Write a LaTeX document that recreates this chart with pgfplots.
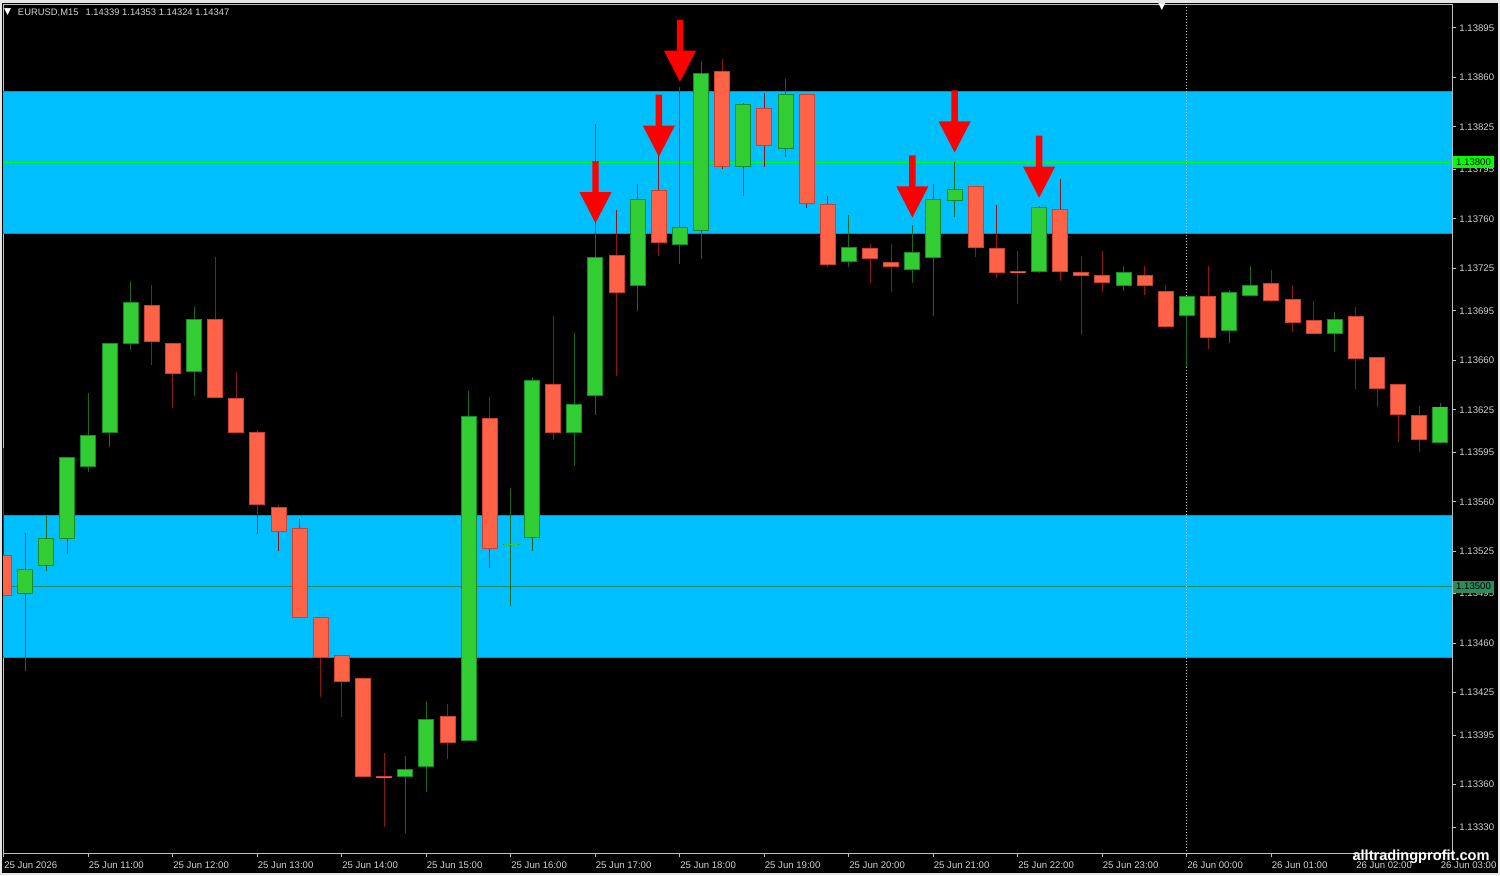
\documentclass[border=0pt]{standalone}
\usepackage{pgfplots}
\usepackage{pgfplotstable}
\pgfplotsset{compat=1.18}
\usepackage{fontspec}
\setmainfont{Liberation Sans}
\newfontfamily\symfont{DejaVu Sans}

\definecolor{zone}{RGB}{0,191,255}
\definecolor{zoneedge}{RGB}{20,140,200}
\definecolor{bullfill}{RGB}{50,205,50}
\definecolor{bulledge}{RGB}{20,140,40}
\definecolor{bullwick}{RGB}{20,105,30}
\definecolor{bearfill}{RGB}{255,99,71}
\definecolor{bearedge}{RGB}{205,65,50}
\definecolor{bearwick}{RGB}{140,25,25}
\definecolor{axisgray}{RGB}{192,192,192}
\definecolor{labelgray}{RGB}{210,210,210}
\definecolor{hlhigh}{RGB}{0,255,0}
\definecolor{hllow}{RGB}{46,139,87}
\definecolor{lowline}{RGB}{30,140,100}

% down arrow, tip at the data point (1px of the reference = 0.5pt)
\pgfdeclareplotmark{sigarrow}{%
  \pgfpathmoveto{\pgfpoint{0pt}{0pt}}%
  \pgfpathlineto{\pgfpoint{-8pt}{15.5pt}}%
  \pgfpathlineto{\pgfpoint{-1.6pt}{15.5pt}}%
  \pgfpathlineto{\pgfpoint{-1.6pt}{31pt}}%
  \pgfpathlineto{\pgfpoint{1.6pt}{31pt}}%
  \pgfpathlineto{\pgfpoint{1.6pt}{15.5pt}}%
  \pgfpathlineto{\pgfpoint{8pt}{15.5pt}}%
  \pgfpathclose
  \pgfusepathqfill}

% prices in points above 1.13000 (895 = 1.13895); n = bar number, 0 = 25 Jun 10:00, M15
\pgfplotstableread{
n o h l c
1 495 538 440 512
2 515 550 511 534
3 534 591 523 591
4 585 637 581 607
5 609 672 599 672
6 672 716 667 701
9 652 698 635 689
19 366 380 326 371
20 373 419 355 406
22 391 638 391 620
24 530 570 486 530
25 535 648 525 646
27 609 679 585 629
28 635 827 621 733
30 713 785 695 774
32 742 853 728 754
33 752 872 732 863
35 797 842 776 841
37 810 859 804 848
40 730 763 726 740
43 724 756 715 736
44 733 785 691 774
45 773 800 761 781
49 723 769 722 768
53 713 727 709 722
56 692 705 655 705
58 681 710 672 708
59 706 727 706 713
63 679 694 666 689
68 602 630 602 627
}\bull

\pgfplotstableread{
n o h l c
0 522 598 494 494
7 699 713 657 673
8 672 672 626 651
10 689 733 634 634
11 633 652 609 609
12 609 611 537 558
13 556 558 525 539
14 541 548 478 478
15 478 478 422 450
16 451 451 408 433
17 435 436 366 366
18 366 382 330 365
21 408 417 378 390
23 619 634 513 527
26 643 691 604 609
29 734 766 649 708
31 780 805 734 743
34 864 873 795 797
36 838 849 797 812
38 848 848 768 771
39 770 776 726 728
41 739 742 715 732
42 729 742 708 726
46 783 783 733 740
47 739 770 718 722
48 723 737 700 722
50 767 788 716 723
51 722 734 678 720
52 720 737 708 715
54 720 727 706 713
55 709 713 682 684
57 705 727 668 676
60 714 724 701 702
61 703 713 680 687
62 688 702 679 679
64 691 698 640 661
65 662 662 627 640
66 643 643 602 622
67 621 628 595 604
}\bear

\begin{document}
\begin{tikzpicture}
\path[use as bounding box] (0,0) rectangle (750pt,437.5pt);
\fill[gray!20] (0,0) rectangle (750pt,437.5pt);
\fill[black] (1pt,1pt) rectangle (749pt,436pt);

\begin{axis}[
  at={(1.5pt,11pt)}, anchor=south west, scale only axis,
  width=724.5pt, height=424pt,
  xmin=-0.047, xmax=68.545, ymin=311.63, ymax=911.26,
  axis line style={draw=axisgray, line width=0.5pt},
  tick style={draw=axisgray, line width=0.5pt},
  tick align=outside, major tick length=2pt,
  xtick pos=bottom, ytick pos=right, yticklabel pos=right,
  xtick={0,4,...,68},
  xticklabels={25 Jun 2026, 25 Jun 11:00, 25 Jun 12:00, 25 Jun 13:00, 25 Jun 14:00,
    25 Jun 15:00, 25 Jun 16:00, 25 Jun 17:00, 25 Jun 18:00, 25 Jun 19:00,
    25 Jun 20:00, 25 Jun 21:00, 25 Jun 22:00, 25 Jun 23:00, 26 Jun 00:00,
    26 Jun 01:00, 26 Jun 02:00, 26 Jun 03:00},
  ytick={330,360,395,425,460,495,525,560,595,625,660,695,725,760,795,825,860,895},
  yticklabels={1.13330,1.13360,1.13395,1.13425,1.13460,1.13495,1.13525,1.13560,
    1.13595,1.13625,1.13660,1.13695,1.13725,1.13760,1.13795,1.13825,1.13860,1.13895},
  ticklabel style={font=\fontsize{4.8}{5.6}\selectfont, text=labelgray},
  xticklabel style={anchor=north west, inner sep=0pt, yshift=-2pt},
  yticklabel style={anchor=west, inner sep=0pt, xshift=1.5pt},
  /pgf/number format/assume math mode=true,
]
% supply / demand zones
\addplot[fill=zone, draw=zoneedge, line width=0.5pt] coordinates {(-1,750) (70,750) (70,850) (-1,850)};
\addplot[fill=zone, draw=zoneedge, line width=0.5pt] coordinates {(-1,450) (70,450) (70,550) (-1,550)};
% levels
\addplot[draw=hlhigh, line width=0.5pt] coordinates {(-1,800) (70,800)};
\addplot[draw=lowline, line width=0.5pt] coordinates {(-1,500) (70,500)};
% day separator
\addplot[draw=axisgray, line width=0.5pt, dash pattern=on 0.5pt off 1pt] coordinates {(56,300) (56,920)};

% wicks
\addplot[draw=none, forget plot, error bars/.cd, y dir=plus, y explicit, error mark=none,
  error bar style={draw=bullwick, line width=0.5pt}]
  table[x=n, y=l, y error plus expr=\thisrow{h}-\thisrow{l}] {\bull};
\addplot[draw=none, forget plot, error bars/.cd, y dir=plus, y explicit, error mark=none,
  error bar style={draw=bearwick, line width=0.5pt}]
  table[x=n, y=l, y error plus expr=\thisrow{h}-\thisrow{l}] {\bear};
% bodies: edge then fill
\addplot[draw=none, forget plot, error bars/.cd, y dir=plus, y explicit, error mark=none,
  error bar style={draw=bulledge, line width=8pt}]
  table[x=n, y expr={min(\thisrow{o},\thisrow{c})-0.35}, y error plus expr={abs(\thisrow{c}-\thisrow{o})+0.7}] {\bull};
\addplot[draw=none, forget plot, error bars/.cd, y dir=plus, y explicit, error mark=none,
  error bar style={draw=bullfill, line width=7pt}]
  table[x=n, y expr={min(\thisrow{o},\thisrow{c})+0.35}, y error plus expr={abs(\thisrow{c}-\thisrow{o})-0.7}] {\bull};
\addplot[draw=none, forget plot, error bars/.cd, y dir=plus, y explicit, error mark=none,
  error bar style={draw=bearedge, line width=8pt}]
  table[x=n, y expr={min(\thisrow{o},\thisrow{c})-0.35}, y error plus expr={abs(\thisrow{c}-\thisrow{o})+0.7}] {\bear};
\addplot[draw=none, forget plot, error bars/.cd, y dir=plus, y explicit, error mark=none,
  error bar style={draw=bearfill, line width=7pt}]
  table[x=n, y expr={min(\thisrow{o},\thisrow{c})+0.35}, y error plus expr={abs(\thisrow{c}-\thisrow{o})-0.7}] {\bear};

% sell signals
\addplot[only marks, mark=sigarrow, color=red, mark options={fill=red, draw=none}]
  coordinates {(28,757) (31,804) (32,857) (43,761) (45,807) (49,775)};

\coordinate (p800) at (axis cs:68.545,800);
\coordinate (p500) at (axis cs:68.545,500);
\end{axis}

\node[fill=hlhigh, text=black, inner xsep=1.6pt, inner ysep=1.3pt, anchor=west,
  font=\fontsize{4.8}{5.6}\selectfont] at ([xshift=0.3pt]p800) {1.13800};
\node[fill=hllow, text=black, inner xsep=1.6pt, inner ysep=1.3pt, anchor=west,
  font=\fontsize{4.8}{5.6}\selectfont] at ([xshift=0.3pt]p500) {1.13500};

\node[anchor=west, inner sep=0pt, text=white, font=\symfont\fontsize{4.6}{5}\selectfont]
  at (1.8pt,431.3pt) {▼};
\node[anchor=west, inner sep=0pt, text=labelgray, font=\fontsize{4.7}{5.5}\selectfont]
  at (8.8pt,431.2pt) {EURUSD,M15\hspace{2.2pt} 1.14339 1.14353 1.14324 1.14347};
\node[inner sep=0pt, text=white, font=\symfont\fontsize{4.6}{5}\selectfont] at (581pt,434pt) {▼};
\node[anchor=east, inner sep=0pt, text=white, font=\bfseries\fontsize{7.3}{8}\selectfont]
  at (745pt,9.3pt) {alltradingprofit.com};
\end{tikzpicture}
\end{document}
